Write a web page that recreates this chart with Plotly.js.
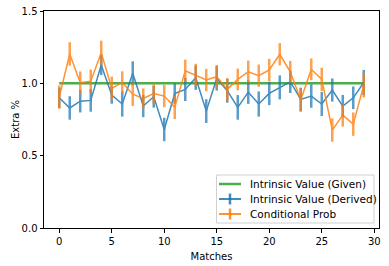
<!DOCTYPE html>
<html>
<head>
<meta charset="utf-8">
<script src="https://cdn.plot.ly/plotly-3.0.1.min.js"></script>
<style>html,body{margin:0;padding:0;background:#fff;}#chart{width:389px;height:266px;}</style>
</head>
<body>
<div id="chart"></div>
<script>
const matches = Array.from({length: 30}, (_, i) => i);
const givenValue = [1,1,1,1,1,1,1,1,1,1,1,1,1,1,1,1,1,1,1,1,1,1,1,1,1,1,1,1,1,1];
const derivedValue = [0.90,0.83,0.877,0.882,1.127,0.919,0.857,1.069,0.843,0.907,0.681,0.930,0.958,1.039,0.808,1.034,0.949,0.834,0.939,0.857,0.930,0.972,1.011,0.889,0.912,0.857,0.954,0.843,0.900,1.006];
const derivedErr = [0.07,0.081,0.078,0.078,0.07,0.06,0.087,0.083,0.077,0.075,0.081,0.07,0.08,0.084,0.082,0.084,0.083,0.085,0.081,0.087,0.081,0.083,0.078,0.081,0.081,0.083,0.080,0.077,0.078,0.087];
const condProb = [0.905,1.203,1.004,1.015,1.212,0.965,1.006,0.925,0.896,0.930,0.912,0.834,1.087,1.057,1.023,1.046,0.958,1.027,1.080,1.053,1.092,1.201,1.08,0.884,1.097,1.027,0.677,0.780,0.718,0.988];
const condErr = [0.081,0.081,0.078,0.080,0.083,0.081,0.077,0.081,0.069,0.07,0.077,0.081,0.077,0.078,0.077,0.081,0.077,0.075,0.077,0.077,0.077,0.077,0.075,0.081,0.075,0.081,0.081,0.079,0.081,0.085];

const xTicks = [0,5,10,15,20,25,30];
const yTicks = [0,0.5,1.0,1.5];
const seriesNames = ['Intrinsic Value (Given)', 'Intrinsic Value (Derived)', 'Conditional Prob'];
const seriesColors = ['#2ca02c', '#1f77b4', '#ff7f0e'];

const font = {family: 'DejaVu Sans, sans-serif', size: 10, color: '#000'};
const legendFont = {family: 'DejaVu Sans, sans-serif', size: 10.5, color: '#000'};

const traces = [
  {x: matches, y: givenValue, type: 'scatter', mode: 'lines', name: seriesNames[0],
   line: {color: seriesColors[0], width: 2.5}, opacity: 0.85, showlegend: false},
  {x: matches, y: derivedValue, type: 'scatter', mode: 'lines', name: seriesNames[1],
   line: {color: seriesColors[1], width: 1.5},
   error_y: {type: 'data', array: derivedErr, visible: true, color: 'rgba(31,119,180,0.85)', thickness: 2.5, width: 0},
   opacity: 0.85, showlegend: false},
  {x: matches, y: condProb, type: 'scatter', mode: 'lines', name: seriesNames[2],
   line: {color: seriesColors[2], width: 1.5},
   error_y: {type: 'data', array: condErr, visible: true, color: 'rgba(255,127,14,0.85)', thickness: 2.5, width: 0},
   opacity: 0.85, showlegend: false}
];

// manual legend (matplotlib-style compact box), positioned in paper fractions of the plot area
const plotL = 44, plotR = 379, plotT = 11, plotB = 228;
const px2x = p => (p - plotL) / (plotR - plotL);
const py2y = p => (plotB - p) / (plotB - plotT);
const shapes = [
  {type: 'rect', xref: 'paper', yref: 'paper', x0: px2x(216.5), x1: px2x(374), y0: py2y(223), y1: py2y(175),
   line: {color: '#d0d0d0', width: 1}, fillcolor: 'rgba(255,255,255,0.85)', layer: 'above'}
];
const annotations = [];
const rowY = [184, 199, 214];
seriesNames.forEach((name, i) => {
  const col = seriesColors[i];
  shapes.push({type: 'line', xref: 'paper', yref: 'paper', x0: px2x(219), x1: px2x(241), y0: py2y(rowY[i]), y1: py2y(rowY[i]),
               line: {color: col, width: i === 0 ? 2.5 : 2}, opacity: 0.85, layer: 'above'});
  if (i > 0) {
    shapes.push({type: 'line', xref: 'paper', yref: 'paper', x0: px2x(230), x1: px2x(230), y0: py2y(rowY[i] - 5.5), y1: py2y(rowY[i] + 5.5),
                 line: {color: col, width: 2.5}, opacity: 0.85, layer: 'above'});
  }
  annotations.push({xref: 'paper', yref: 'paper', x: px2x(247.5), y: py2y(rowY[i]), xanchor: 'left', yanchor: 'middle',
                    text: name, showarrow: false, font: legendFont});
});

const layout = {
  width: 389, height: 266,
  margin: {l: plotL, r: 389 - plotR, t: plotT, b: 266 - plotB},
  paper_bgcolor: '#fff', plot_bgcolor: '#fff',
  font: font,
  showlegend: false,
  shapes: shapes,
  annotations: annotations,
  xaxis: {range: [-1.45, 30.45], tickvals: xTicks, ticktext: xTicks.map(String),
          showgrid: false, zeroline: false, showline: true, mirror: true,
          linecolor: '#000', linewidth: 1, ticks: 'outside', ticklen: 3.5, tickwidth: 1, tickcolor: '#000',
          title: {text: 'Matches', font: font, standoff: 7}, tickfont: font},
  yaxis: {range: [0, 1.5], tickvals: yTicks, ticktext: yTicks.map(v => v.toFixed(1)),
          showgrid: false, zeroline: false, showline: true, mirror: true,
          linecolor: '#000', linewidth: 1, ticks: 'outside', ticklen: 3.5, tickwidth: 1, tickcolor: '#000',
          title: {text: 'Extra %', font: font, standoff: 0}, tickfont: font}
};

Plotly.newPlot('chart', traces, layout, {staticPlot: true, displayModeBar: false});
</script>
</body>
</html>
